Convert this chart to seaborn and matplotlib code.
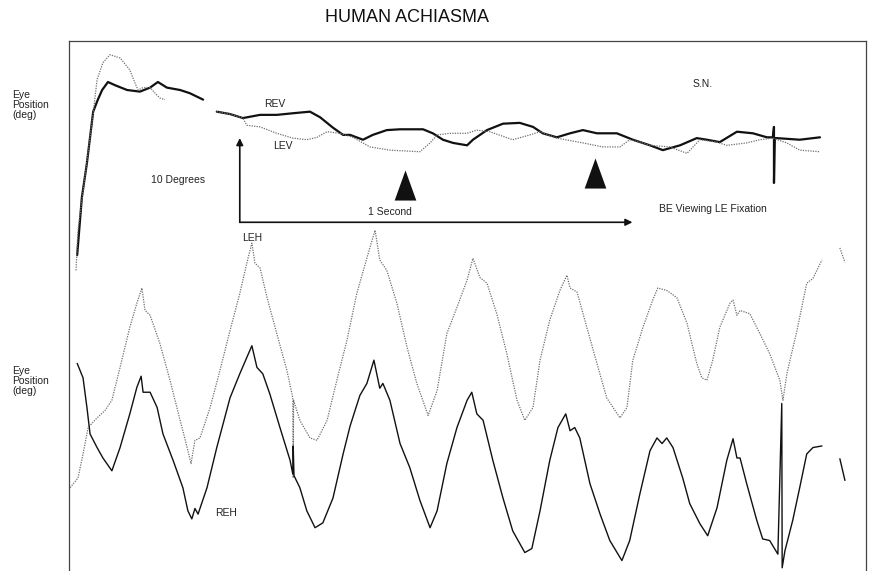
import numpy as np
import pandas as pd
import matplotlib
matplotlib.use("Agg")
import matplotlib.pyplot as plt
import seaborn as sns

# time in seconds, eye position in degrees
# vertical traces, first piece (before the gap)
rev1_t = [0.021, 0.033, 0.046, 0.062, 0.074, 0.085, 0.100, 0.118, 0.149, 0.182,
          0.208, 0.228, 0.251, 0.285, 0.310, 0.344]
rev1_deg = [39.4, 46.6, 50.9, 57.3, 58.8, 60.0, 61.0, 60.6, 60.0, 59.8,
            60.3, 61.0, 60.3, 60.0, 59.6, 58.8]
lev1_t = [0.018, 0.023, 0.062, 0.072, 0.087, 0.105, 0.131, 0.156, 0.169, 0.177,
          0.190, 0.208, 0.221, 0.233, 0.246]
lev1_deg = [37.5, 42.5, 57.1, 61.3, 63.4, 64.4, 64.0, 62.5, 60.9, 60.0,
            60.3, 60.3, 59.6, 59.0, 58.8]

# vertical traces, second piece
rev2_t = [0.379, 0.413, 0.446, 0.490, 0.533, 0.574, 0.618, 0.644, 0.677, 0.703,
          0.721, 0.754, 0.779, 0.815, 0.849, 0.908, 0.933, 0.959, 0.985, 1.021,
          1.036, 1.072, 1.113, 1.156, 1.190, 1.215, 1.251, 1.285, 1.318, 1.354,
          1.405, 1.446, 1.490, 1.523, 1.567, 1.610, 1.636, 1.669, 1.713, 1.754,
          1.790, 1.805, 1.808, 1.808, 1.810, 1.815, 1.874, 1.926]
rev2_deg = [57.3, 57.0, 56.5, 56.9, 56.9, 57.1, 57.3, 56.6, 55.3, 54.4,
            54.4, 53.8, 54.4, 55.0, 55.1, 55.1, 54.6, 53.8, 53.4, 53.1,
            53.8, 55.0, 55.8, 55.9, 55.4, 54.6, 54.1, 54.6, 55.0, 54.6,
            54.6, 53.8, 53.1, 52.5, 53.1, 54.0, 53.8, 53.5, 54.8, 54.6,
            54.1, 54.1, 55.4, 48.4, 54.0, 54.0, 53.8, 54.1]
lev2_t = [0.379, 0.413, 0.446, 0.456, 0.490, 0.533, 0.574, 0.610, 0.636, 0.662,
          0.695, 0.728, 0.772, 0.823, 0.900, 0.926, 0.944, 0.977, 1.021, 1.046,
          1.079, 1.138, 1.182, 1.208, 1.251, 1.318, 1.369, 1.413, 1.438, 1.464,
          1.490, 1.541, 1.585, 1.618, 1.662, 1.687, 1.738, 1.772, 1.805, 1.841,
          1.874, 1.926]
lev2_deg = [57.3, 57.0, 56.5, 55.6, 55.4, 54.6, 54.0, 53.8, 54.1, 54.8,
            54.6, 54.1, 52.9, 52.5, 52.3, 53.4, 54.4, 54.6, 54.6, 55.0,
            54.8, 53.8, 54.4, 54.8, 54.0, 53.4, 52.9, 52.9, 53.8, 53.5,
            53.1, 52.9, 52.1, 53.8, 53.5, 53.1, 53.4, 53.8, 54.0, 53.4,
            52.5, 52.3]

# horizontal traces
leh_t = [0.003, 0.023, 0.036, 0.049, 0.072, 0.092, 0.110, 0.131, 0.156, 0.174,
         0.187, 0.195, 0.208, 0.233, 0.259, 0.285, 0.303, 0.313, 0.323, 0.336,
         0.362, 0.387, 0.413, 0.438, 0.456, 0.469, 0.477, 0.490, 0.508, 0.533,
         0.559, 0.574, 0.575, 0.576, 0.592, 0.618, 0.636, 0.662, 0.687, 0.713,
         0.738, 0.772, 0.785, 0.797, 0.815, 0.841, 0.867, 0.892, 0.921, 0.944,
         0.969, 0.995, 1.021, 1.036, 1.054, 1.072, 1.097, 1.123, 1.149, 1.169,
         1.190, 1.208, 1.233, 1.259, 1.277, 1.285, 1.303, 1.328, 1.354, 1.379,
         1.413, 1.431, 1.446, 1.472, 1.497, 1.510, 1.533, 1.559, 1.585, 1.610,
         1.623, 1.636, 1.651, 1.669, 1.695, 1.703, 1.713, 1.721, 1.746, 1.772,
         1.797, 1.823, 1.831, 1.841, 1.867, 1.892, 1.908, 1.931]
leh_deg = [10.4, 11.6, 14.6, 17.9, 19.1, 20.0, 21.3, 25.4, 30.4, 33.4,
           35.3, 32.5, 31.9, 28.4, 23.8, 18.8, 15.4, 13.4, 16.3, 16.6,
           20.4, 25.0, 30.0, 34.6, 38.4, 40.9, 38.4, 37.8, 34.1, 29.6,
           25.0, 21.6, 11.6, 21.3, 18.8, 16.6, 16.3, 18.8, 23.8, 28.8,
           34.6, 40.4, 42.5, 38.8, 37.5, 33.4, 27.9, 23.4, 19.4, 22.5,
           29.6, 32.9, 36.3, 39.0, 36.6, 35.9, 32.1, 27.1, 21.3, 18.8,
           20.4, 26.3, 31.3, 35.0, 36.9, 35.3, 34.8, 30.4, 25.9, 21.6,
           19.1, 20.4, 26.3, 30.4, 33.8, 35.3, 35.0, 34.1, 30.9, 25.9,
           24.1, 23.8, 26.3, 30.4, 33.4, 33.8, 31.9, 32.5, 32.1, 29.6,
           27.1, 23.8, 21.3, 24.6, 30.0, 35.9, 36.5, 38.8]
leh_tail_t = [1.977, 1.990]
leh_tail_deg = [40.3, 38.5]

reh_t = [0.021, 0.036, 0.046, 0.054, 0.072, 0.087, 0.110, 0.131, 0.156, 0.174,
         0.185, 0.190, 0.208, 0.226, 0.241, 0.267, 0.292, 0.305, 0.315, 0.323,
         0.331, 0.354, 0.379, 0.413, 0.438, 0.469, 0.482, 0.497, 0.515, 0.541,
         0.567, 0.574, 0.575, 0.577, 0.592, 0.610, 0.631, 0.651, 0.677, 0.703,
         0.721, 0.746, 0.764, 0.782, 0.797, 0.805, 0.823, 0.849, 0.874, 0.900,
         0.926, 0.944, 0.969, 0.995, 1.021, 1.033, 1.046, 1.062, 1.087, 1.113,
         1.138, 1.169, 1.187, 1.208, 1.233, 1.254, 1.274, 1.285, 1.297, 1.310,
         1.336, 1.362, 1.387, 1.418, 1.438, 1.464, 1.490, 1.508, 1.521, 1.533,
         1.549, 1.574, 1.592, 1.618, 1.638, 1.662, 1.687, 1.703, 1.713, 1.721,
         1.738, 1.764, 1.779, 1.797, 1.818, 1.828, 1.829, 1.836, 1.856, 1.874,
         1.892, 1.908, 1.931]
reh_deg = [25.9, 24.1, 20.4, 17.1, 15.4, 14.1, 12.5, 15.4, 19.6, 22.9,
           24.3, 22.3, 22.3, 20.4, 17.1, 13.8, 10.4, 7.5, 6.5, 7.8,
           7.1, 10.4, 15.4, 21.6, 24.6, 28.1, 25.4, 24.6, 22.1, 17.9,
           13.8, 12.1, 15.6, 11.9, 10.4, 7.5, 5.4, 6.0, 9.1, 14.6,
           18.1, 21.9, 23.4, 26.3, 22.8, 23.4, 21.3, 15.9, 12.9, 8.8,
           5.4, 7.5, 13.4, 17.9, 21.3, 22.3, 19.6, 18.8, 13.8, 9.1,
           5.0, 2.3, 2.8, 7.5, 13.8, 17.9, 19.6, 17.5, 17.9, 16.6,
           10.9, 7.1, 3.8, 1.3, 3.8, 9.6, 15.0, 16.6, 15.9, 16.6,
           15.4, 11.6, 8.4, 5.9, 4.4, 7.9, 13.8, 16.5, 14.1, 14.1,
           10.9, 6.3, 4.0, 3.8, 2.1, 20.9, 0.4, 2.5, 6.3, 10.4,
           14.6, 15.4, 15.6]
reh_tail_t = [1.977, 1.990]
reh_tail_deg = [14.0, 11.3]

# stimulus markers
marker_t = [0.862, 1.349]
marker_deg = [48.1, 49.7]

sns.set_style("white")
plt.rcParams['font.family'] = ['Liberation Sans', 'DejaVu Sans']

fig = plt.figure(figsize=(8.7, 5.71), dpi=100)
ax = fig.add_axes([0.0793, 0.0, 0.9161, 0.928])

solid = dict(color='#111111', estimator=None, sort=False, ax=ax)
dotted = dict(color='#707070', estimator=None, sort=False, ax=ax, linestyle=(0, (1, 1)))

sns.lineplot(x=rev1_t, y=rev1_deg, linewidth=1.6, **solid)
sns.lineplot(x=rev2_t, y=rev2_deg, linewidth=1.6, **solid)
sns.lineplot(x=lev1_t, y=lev1_deg, linewidth=0.9, **dotted)
sns.lineplot(x=lev2_t, y=lev2_deg, linewidth=0.9, **dotted)
sns.lineplot(x=leh_t, y=leh_deg, linewidth=0.9, **dotted)
sns.lineplot(x=leh_tail_t, y=leh_tail_deg, linewidth=0.9, **dotted)
sns.lineplot(x=reh_t, y=reh_deg, linewidth=1.0, **solid)
sns.lineplot(x=reh_tail_t, y=reh_tail_deg, linewidth=1.0, **solid)

tri = [(-0.72, -1.0), (0.72, -1.0), (0.0, 1.0), (-0.72, -1.0)]
ax.scatter(marker_t, marker_deg, marker=tri, s=470, color='#111111', zorder=5, linewidths=0)

# calibration bars
ax.annotate('', xy=(0.438, 54.0), xytext=(0.438, 43.5),
            arrowprops=dict(arrowstyle='-|>', color='#111111', lw=1.2,
                            mutation_scale=10, shrinkA=0, shrinkB=0))
ax.annotate('', xy=(1.445, 43.5), xytext=(0.438, 43.5),
            arrowprops=dict(arrowstyle='-|>', color='#111111', lw=1.2,
                            mutation_scale=10, shrinkA=0, shrinkB=0))

fs = 7.5
ax.text(0.528, 58.25, "REV", fontsize=fs, ha='center', va='center', color='#222222')
ax.text(0.549, 53.0, "LEV", fontsize=fs, ha='center', va='center', color='#222222')
ax.text(0.279, 48.75, "10 Degrees", fontsize=fs, ha='center', va='center', color='#222222')
ax.text(0.823, 44.75, "1 Second", fontsize=fs, ha='center', va='center', color='#222222')
ax.text(1.651, 45.1, "BE Viewing LE Fixation", fontsize=fs, ha='center', va='center', color='#222222')
ax.text(1.626, 60.75, "S.N.", fontsize=fs, ha='center', va='center', color='#222222')
ax.text(0.469, 41.6, "LEH", fontsize=fs, ha='center', va='center', color='#222222')
ax.text(0.403, 7.25, "REH", fontsize=fs, ha='center', va='center', color='#222222')

ax.set_xlim(0, 2.044)
ax.set_ylim(0, 66.1)
ax.set_xticks([])
ax.set_yticks([])
ax.set_xlabel('')
ax.set_ylabel('')
for side in ['left', 'top', 'right']:
    ax.spines[side].set_color('#444444')
    ax.spines[side].set_linewidth(0.9)
ax.spines['bottom'].set_visible(False)

fig.text(0.468, 0.970, "HUMAN ACHIASMA", fontsize=13, ha='center', va='center', color='#111111')
fig.text(0.014, 1 - 105 / 571, "Eye\nPosition\n(deg)", fontsize=fs, ha='left', va='center',
         linespacing=1.05, color='#222222')
fig.text(0.014, 1 - 381 / 571, "Eye\nPosition\n(deg)", fontsize=fs, ha='left', va='center',
         linespacing=1.05, color='#222222')

fig.savefig("out.png", dpi=100)
